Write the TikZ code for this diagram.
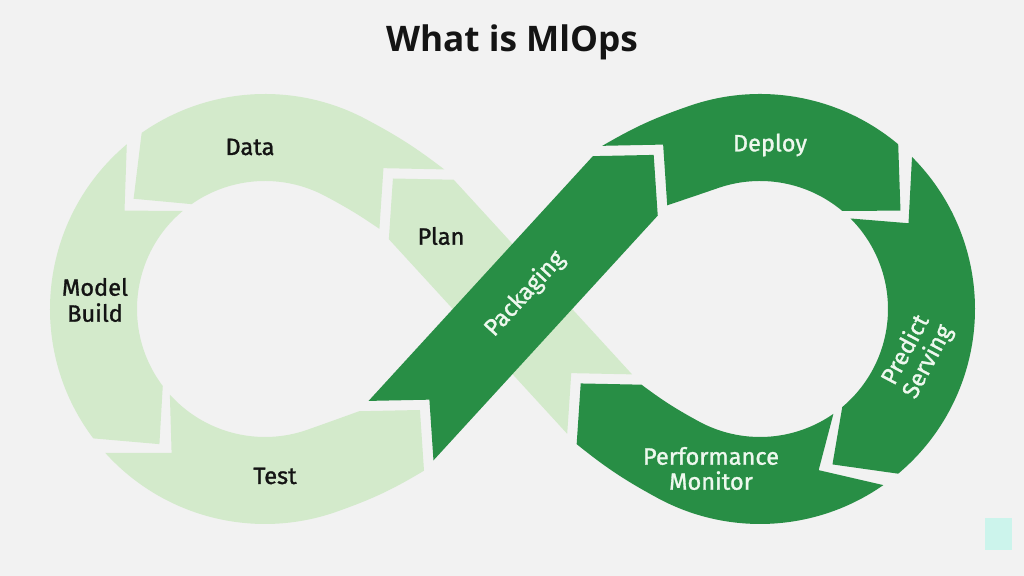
\documentclass[tikz,border=0pt]{standalone}
\usepackage{fontspec}
\setmainfont{Fira Sans}
\newfontfamily\labelfont{Fira Sans}[FakeBold=1.2]
\newfontfamily\titlefont{Open Sans}
\usepackage{tikz}
\usetikzlibrary{positioning}
\definecolor{canvas}{HTML}{F2F2F2}
\definecolor{leaf}{HTML}{D3EACB}
\definecolor{forest}{HTML}{288E45}
\definecolor{ink}{HTML}{141414}
\definecolor{mist}{HTML}{EEF8EE}
\definecolor{corner}{HTML}{CCF4EC}

\def\Rout{215}
\def\Rin{128}
\def\Rmid{171.5}

\tikzset{
  lightseg/.style={fill=leaf},
  darkseg/.style={fill=forest},
  inklabel/.style={font=\labelfont\fontsize{11.8}{13}\selectfont, text=ink, align=center},
  mistlabel/.style={font=\labelfont\fontsize{11.8}{12.5}\selectfont, text=mist, align=center},
}

\begin{document}
\begin{tikzpicture}[x=0.5pt, y=0.5pt]
  \fill[canvas] (-512.5,-267) rectangle (511.5,309);

  % corner points of the ends that meet the straight bands
  \begin{scope}[rotate=47.5]
    \coordinate (tho) at (-179,-44); \coordinate (tht) at (-137,0); \coordinate (thi) at (-179,44);
    \coordinate (dpo) at (181,44);   \coordinate (dpn) at (223,0);  \coordinate (dpi) at (181,-44);
  \end{scope}
  \begin{scope}[rotate=132.5]
    \coordinate (dto) at (149,-44);  \coordinate (dtn) at (191,0);  \coordinate (dti) at (149,44);
    \coordinate (pmo) at (-143,44);  \coordinate (pmt) at (-101,0); \coordinate (pmi) at (-143,-44);
  \end{scope}

  % plan band, under packaging
  \begin{scope}[rotate=132.5]
    \fill[lightseg] (-129,-44) -- (135,-44) -- (177,0) -- (135,44) -- (-129,44) -- (-87,0) -- cycle;
  \end{scope}

  % plain ring pieces
  \foreach \cx/\a/\b/\seg in {-247.5/130/217/lightseg, 247.5/45/-50/darkseg} {
    \pgfmathsetmacro{\s}{\b>\a ? 15 : -15}
    \begin{scope}[shift={(\cx,0)}]
      \fill[\seg] (\a:\Rout) arc[start angle=\a, end angle=\b, radius=\Rout]
        -- (\b+\s:\Rmid) -- (\b:\Rin) arc[start angle=\b, end angle=\a, radius=\Rin]
        -- (\a+\s:\Rmid) -- cycle;
    \end{scope}
  }

  % left loop
  \begin{scope}[shift={(-247.5,0)}]
    \fill[lightseg] (dto) to[out=142.6,in=-28] (62:\Rout)
      arc[start angle=62, end angle=125, radius=\Rout] -- (140:\Rmid) -- (125:\Rin)
      arc[start angle=125, end angle=62, radius=\Rin] to[out=-28,in=145.6] (dti) -- (dtn) -- cycle;
    \fill[lightseg] (222:\Rout) arc[start angle=222, end angle=289.5, radius=\Rout]
      to[out=19.5,in=210.9] (tho) -- (tht) -- (thi) to[out=199.9,in=19.5] (289.5:\Rin)
      arc[start angle=289.5, end angle=222, radius=\Rin] -- (237:\Rmid) -- cycle;
  \end{scope}

  % packaging band
  \begin{scope}[rotate=47.5]
    \fill[darkseg] (-165,-44) -- (167,-44) -- (209,0) -- (167,44) -- (-165,44) -- (-123,0) -- cycle;
  \end{scope}

  % right loop
  \begin{scope}[shift={(247.5,0)}]
    \fill[darkseg] (dpo) to[out=30.2,in=199] (109:\Rout)
      arc[start angle=109, end angle=50, radius=\Rout] -- (35:\Rmid) -- (50:\Rin)
      arc[start angle=50, end angle=109, radius=\Rin] to[out=199,in=18.4] (dpi) -- (dpn) -- cycle;
    \fill[darkseg] (-55:\Rout) arc[start angle=-55, end angle=-118.6, radius=\Rout]
      to[out=151.4,in=-38.8] (pmo) -- (pmt) -- (pmi) to[out=-36.8,in=151.4] (-118.6:\Rin)
      arc[start angle=-118.6, end angle=-55, radius=\Rin] -- (-70:\Rmid) -- cycle;
  \end{scope}

  \fill[corner] (472.5,-209) rectangle (499.5,-241);

  \node[font=\titlefont\bfseries\fontsize{17.6}{21}\selectfont, text=ink] (title) at (-0.5,267) {What is MlOps};
  \node[inklabel] (data) at (-262.5,162) {Data};
  \node[inklabel] (plan) at (-71.5,73) {Plan};
  \node[inklabel] (build) at (-417.5,9) {Model\\Build};
  \node[inklabel] (test) at (-237.5,-167) {Test};
  \node[mistlabel, rotate=47.5] (pack) at (12.5,15) {Packaging};
  \node[mistlabel] (deploy) at (257.5,164) {Deploy};
  \node[mistlabel, rotate=62] (serve) at (404.5,-47) {Predict\\Serving};
  \node[mistlabel] (monitor) at (198.5,-159.5) {Performance\\Monitor};
\end{tikzpicture}
\end{document}
